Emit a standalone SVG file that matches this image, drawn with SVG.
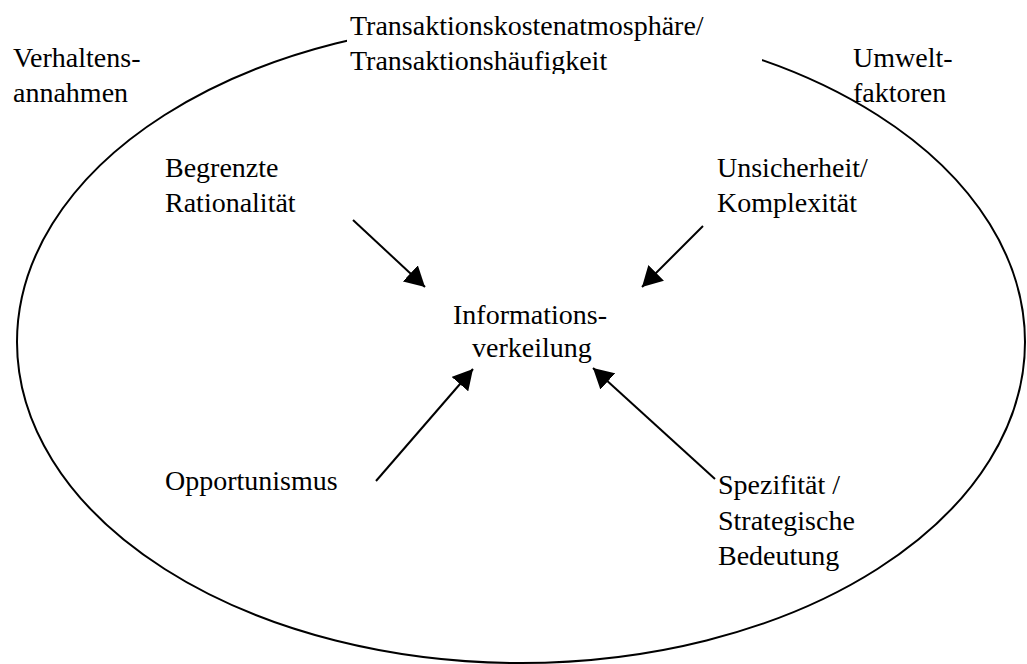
<svg xmlns="http://www.w3.org/2000/svg" width="1027" height="664" viewBox="0 0 1027 664">
  <style>
    .lbl { font-family: "Liberation Serif", "Times New Roman", serif; font-size: 28px; fill: #000; }
    .conn { stroke: #000; stroke-width: 2; fill: none; }
  </style>
  <defs>
    <marker id="head" markerUnits="userSpaceOnUse" markerWidth="22" markerHeight="22" refX="20" refY="11" orient="auto">
      <path d="M0,0 L20,11 L0,22 z" fill="#000"/>
    </marker>
    <clipPath id="topClip">
      <rect x="347" y="0" width="415" height="74"/>
    </clipPath>
  </defs>

  <rect width="1027" height="664" fill="#fff"/>

  <!-- enclosing ellipse -->
  <g id="boundary">
    <ellipse cx="521" cy="342" rx="504" ry="321" fill="none" stroke="#000" stroke-width="2"/>
  </g>

  <!-- title box sits on top of the ellipse -->
  <g id="atmosphere">
    <rect x="347" y="0" width="415" height="74" fill="#fff"/>
    <text class="lbl" clip-path="url(#topClip)">
      <tspan x="350" y="35">Transaktionskostenatmosphäre/</tspan>
      <tspan x="350" y="70">Transaktionshäufigkeit</tspan>
    </text>
  </g>

  <g id="behaviour">
    <text class="lbl"><tspan x="13" y="67">Verhaltens-</tspan><tspan x="13" y="102">annahmen</tspan></text>
  </g>

  <g id="environment">
    <text class="lbl"><tspan x="853" y="67">Umwelt-</tspan><tspan x="853" y="102">faktoren</tspan></text>
  </g>

  <g id="rationality">
    <text class="lbl"><tspan x="165" y="177">Begrenzte</tspan><tspan x="165" y="212">Rationalität</tspan></text>
  </g>

  <g id="uncertainty">
    <text class="lbl"><tspan x="717" y="177">Unsicherheit/</tspan><tspan x="717" y="212">Komplexität</tspan></text>
  </g>

  <g id="information">
    <text class="lbl"><tspan x="453" y="324">Informations-</tspan><tspan x="472" y="357">verkeilung</tspan></text>
  </g>

  <g id="opportunism">
    <text class="lbl"><tspan x="165" y="490">Opportunismus</tspan></text>
  </g>

  <g id="specificity">
    <text class="lbl"><tspan x="718" y="494">Spezifität /</tspan><tspan x="718" y="530">Strategische</tspan><tspan x="718" y="565">Bedeutung</tspan></text>
  </g>

  <g id="connectors">
    <line class="conn" x1="353" y1="220" x2="425" y2="287" marker-end="url(#head)"/>
    <line class="conn" x1="703" y1="226" x2="642" y2="287" marker-end="url(#head)"/>
    <line class="conn" x1="376" y1="481" x2="473" y2="369" marker-end="url(#head)"/>
    <line class="conn" x1="715" y1="479" x2="593" y2="368" marker-end="url(#head)"/>
  </g>
</svg>
